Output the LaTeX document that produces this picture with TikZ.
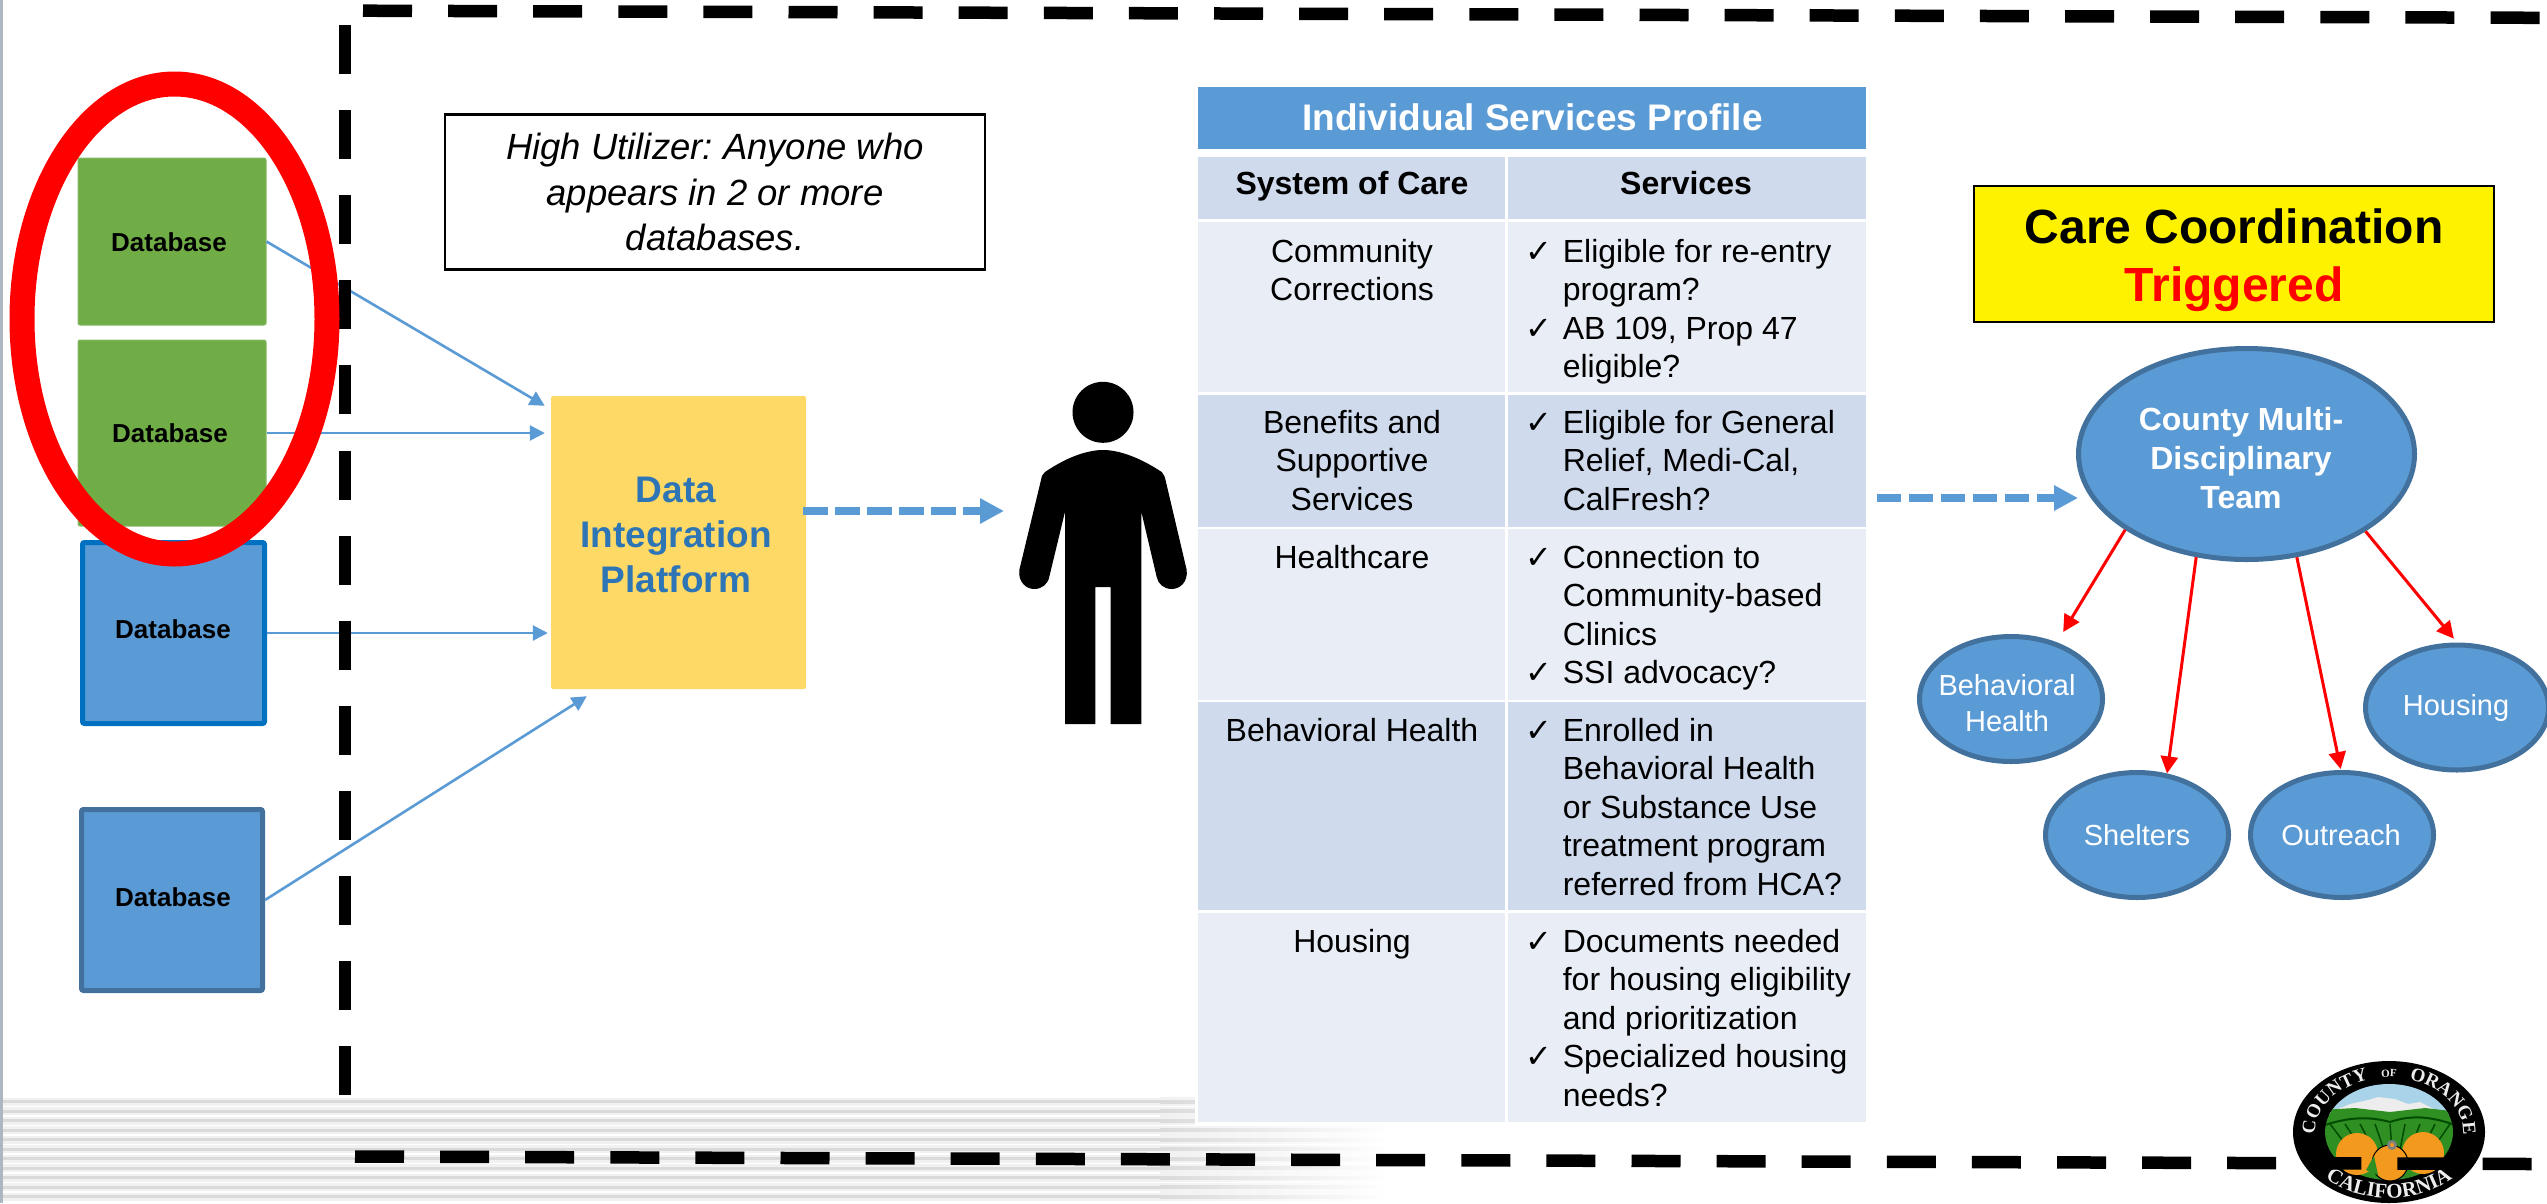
\documentclass[tikz,border=0pt]{standalone}
\usepackage{fontspec}
\setmainfont{Liberation Sans}
\newfontfamily\chkfont{DejaVu Sans}
\newfontfamily\logofont{Liberation Serif}
\usetikzlibrary{shapes.geometric,arrows.meta,decorations.text,calc}
\definecolor{hdblue}{HTML}{5B9BD5}
\definecolor{edgeblue}{HTML}{41719C}
\definecolor{vivblue}{HTML}{0070C0}
\definecolor{dbgreen}{HTML}{70AD47}
\definecolor{platyellow}{HTML}{FFD966}
\definecolor{plattext}{HTML}{2E75B6}
\definecolor{rowdark}{HTML}{CFDAED}
\definecolor{rowlight}{HTML}{E9EDF6}
\definecolor{stripeD}{HTML}{DADADA}
\definecolor{stripeL}{HTML}{F1F1F1}
\definecolor{edgegray}{HTML}{AEB6C2}
\definecolor{orng}{HTML}{F39A1E}
\definecolor{leaf}{HTML}{2F8F22}
\definecolor{sky}{HTML}{A9D3E8}
\definecolor{sealwhite}{HTML}{EDEDED}
\newcommand\fsz[2]{\fontsize{#1pt}{#2pt}\selectfont}
\newcommand\chk{\llap{{\chkfont\fsz{32}{38.5}✓}\hspace{11pt}}}
\frenchspacing
\tikzset{
  dbgreenbox/.style={rectangle,rounded corners=2pt,fill=dbgreen,draw=dbgreen!85!white,line width=1pt,inner sep=0pt},
  dbbluebox/.style={rectangle,rounded corners=2pt,fill=hdblue,line width=5pt,inner sep=0pt},
  dbtext/.style={text=black,font=\bfseries\fsz{26}{30},inner sep=0pt},
  feed/.style={draw=hdblue,line width=2.6pt,-{Triangle[length=15pt,width=15pt]}},
  dashflow/.style={draw=hdblue,line width=8pt,dash pattern=on 24.3pt off 7.7pt,-{Triangle[length=24pt,width=24pt]}},
  teamarrow/.style={draw=red,line width=3pt,-{Triangle[length=17pt,width=17pt]}},
  frameline/.style={draw=black,line width=12.5pt,dash pattern=on 49pt off 36.1pt},
  teambub/.style={ellipse,fill=hdblue,draw=edgeblue,line width=5pt,inner sep=0pt,minimum width=183pt,minimum height=125pt},
  bubtext/.style={text=white,font=\fsz{29}{36},align=center,inner sep=0pt},
  cellc/.style={anchor=north,font=\fsz{32}{38.5},align=center,inner sep=0pt,text=black},
  celll/.style={anchor=north west,font=\fsz{32}{38.5},align=left,inner sep=0pt,text=black},
  thead/.style={anchor=base,font=\bfseries\fsz{32}{38.5},inner sep=0pt,text=black},
  sealtext/.style={decorate,decoration={text along path,text align={center},text={#1}}},
}
\begin{document}
\begin{tikzpicture}[x=1pt,y=-1pt]
\useasboundingbox (0,0) rectangle (2547,1203);
\fill[white] (0,0) rectangle (2547,1203);
% footer stripes
\foreach \i [evaluate=\i as \yy using 1101.7+9.5*\i] in {0,...,10}{
  \fill[stripeL] (3,\yy-4) rectangle (1160,\yy+4);
  \fill[stripeD] (3,\yy-1.6) rectangle (1160,\yy+1.6);
  \shade[left color=stripeL,right color=white] (1160,\yy-4) rectangle (1392,\yy+4);
  \shade[left color=stripeD,right color=white] (1160,\yy-1.6) rectangle (1392,\yy+1.6);
}
\fill[edgegray] (0,0) rectangle (2.8,1203);

% databases
\node[dbgreenbox,minimum width=188pt,minimum height=167pt] (db1) at (172,241.5) {};
\node[dbgreenbox,minimum width=188pt,minimum height=186pt] (db2) at (172,433) {};
\node[dbbluebox,draw=vivblue,minimum width=182pt,minimum height=181pt] (db3) at (173.5,633) {};
\node[dbbluebox,draw=edgeblue,minimum width=181pt,minimum height=181pt] (db4) at (172,900) {};
\node[dbtext] (db1T) at (169,242) {Database};
\node[dbtext] (db2T) at (170,433) {Database};
\node[dbtext] (db3T) at (173,629) {Database};
\node[dbtext] (db4T) at (173,897) {Database};

% platform
\node[rectangle,rounded corners=2pt,fill=platyellow,minimum width=255pt,minimum height=293pt,inner sep=0pt] (plat) at (678.5,542.5) {};
\node[text=plattext,font=\bfseries\fsz{37}{45},align=center,inner sep=0pt] (platT) at (676,535) {Data\\Integration\\Platform};

% feeds
\draw[feed] (db1.east) -- ([xshift=-6pt,yshift=-10pt]plat.north west);
\draw[feed] (db2.east) -- ([xshift=-6pt]plat.west |- db2.east);
\draw[feed] (db3.east) -- ([xshift=-3pt]plat.west |- db3.east);
\draw[feed] (db4.east) -- ([xshift=36pt,yshift=-7pt]plat.south west);

% frame
\draw[frameline] (345,25) -- (345,1096);
\draw[frameline] (363,10.7) -- (2540,17.8);

% red ring
\node[ellipse,draw=red,line width=25pt,minimum width=305pt,minimum height=470pt,inner sep=0pt] (ring) at (174.5,319) {};

% definition box
\node[rectangle,draw=black,line width=2.5pt,fill=white,minimum width=540pt,minimum height=155pt,font=\itshape\fsz{36.5}{45.2},align=center,inner sep=0pt] (defbox) at (715,192) {High Utilizer: Anyone who\\appears in 2 or more\\databases.};

% person
\fill[black] (1103,412.3) circle[radius=30.5pt];
\fill[black] (1045,472) .. controls (1070,455) and (1090,450) .. (1103,450) .. controls (1116,450) and (1136,455) .. (1161.7,472) .. controls (1163,474) and (1165,476) .. (1165.5,480) -- (1186.7,570) .. controls (1188,582) and (1180,589) .. (1171.7,589) .. controls (1164,589) and (1158,584) .. (1156.7,577) -- (1141.3,511.7) -- (1141.3,724) -- (1110.7,724) -- (1110.7,587) -- (1095.3,587) -- (1095.3,724) -- (1065,724) -- (1065,511.7) -- (1049.3,576.7) .. controls (1048,584) and (1042,589) .. (1034.3,589) .. controls (1026,589) and (1018,582) .. (1019.3,570) -- (1041,480) .. controls (1041.5,476) and (1043,474) .. (1045,472) -- cycle;
\coordinate (persL) at (1004,511);
\draw[dashflow] ([xshift=-3pt,yshift=31.5pt]plat.east) -- (persL);

% table
\fill[white] (1195,80) rectangle (1870,1125);
\fill[hdblue] (1198,86.7) rectangle (1866,149);
\fill[rowdark] (1198,157) rectangle (1505,219);
\fill[rowdark] (1507.5,157) rectangle (1866,219);
\fill[rowlight] (1198,222) rectangle (1505,392);
\fill[rowlight] (1507.5,222) rectangle (1866,392);
\fill[rowdark] (1198,395) rectangle (1505,527);
\fill[rowdark] (1507.5,395) rectangle (1866,527);
\fill[rowlight] (1198,529) rectangle (1505,700);
\fill[rowlight] (1507.5,529) rectangle (1866,700);
\fill[rowdark] (1198,702) rectangle (1505,910);
\fill[rowdark] (1507.5,702) rectangle (1866,910);
\fill[rowlight] (1198,913) rectangle (1505,1122);
\fill[rowlight] (1507.5,913) rectangle (1866,1122);

\node[anchor=base,text=white,font=\bfseries\fsz{37}{40},inner sep=0pt] (title) at (1532.5,130) {Individual Services Profile};
\node[thead] (h1) at (1352,194) {System of Care};
\node[thead] (h2) at (1686,194) {Services};

\node[cellc] (c1) at (1352,235) {\strut Community\\Corrections};
\node[cellc] (c2) at (1352,406) {\strut Benefits and\\Supportive\\Services};
\node[cellc] (c3) at (1352,541) {\strut Healthcare};
\node[cellc] (c4) at (1352,714) {\strut Behavioral Health};
\node[cellc] (c5) at (1352,925) {\strut Housing};

\node[celll] (s1) at (1562.6,235) {\strut\chk Eligible for re-entry\\program?\\\chk AB 109, Prop 47\\eligible?};
\node[celll] (s2) at (1562.6,406) {\strut\chk Eligible for General\\Relief, Medi-Cal,\\CalFresh?};
\node[celll] (s3) at (1562.6,541) {\strut\chk Connection to\\Community-based\\Clinics\\\chk SSI advocacy?};
\node[celll] (s4) at (1562.6,714) {\strut\chk Enrolled in\\Behavioral Health\\or Substance Use\\treatment program\\referred from HCA?};
\node[celll] (s5) at (1562.6,925) {\strut\chk Documents needed\\for housing eligibility\\and prioritization\\\chk Specialized housing\\needs?};

% care coordination
\node[rectangle,draw=black,line width=2.5pt,fill=yellow,minimum width=520pt,minimum height=136pt,inner sep=0pt] (care) at (2234,254) {};
\node[font=\bfseries\fsz{48}{57.5},align=center,inner sep=0pt] (careT) at (2234,260) {Care Coordination\\\textcolor{red}{Triggered}};

% team
\node[ellipse,fill=hdblue,draw=edgeblue,line width=5pt,minimum width=336pt,minimum height=211pt,inner sep=0pt] (mdt) at (2246.5,454) {};
\node[text=white,font=\bfseries\fsz{32}{39},align=center,inner sep=0pt] (mdtT) at (2241,458) {County Multi-\\Disciplinary\\Team};
\node[teambub] (beh) at (2011,699) {};
\node[teambub] (shel) at (2137,835) {};
\node[teambub] (outr) at (2342,835) {};
\node[teambub] (hous) at (2457,707.5) {};
\node[bubtext] (behT) at (2007,703) {Behavioral\\Health};
\node[bubtext] (shelT) at (2137,835) {Shelters};
\node[bubtext] (outrT) at (2341,835) {Outreach};
\node[bubtext] (housT) at (2456,708) {Housing};

\coordinate (tabR) at (1877,498);
\draw[dashflow] (tabR) -- (2078,498);
\draw[teamarrow,shorten >=12pt] (mdt.212) -- (beh.51);
\draw[teamarrow] (mdt.244.4) -- (shel.64);
\draw[teamarrow,shorten >=1pt] (mdt.296.6) -- (outr.91);
\draw[teamarrow,shorten >=5pt] (mdt.327.9) -- (hous.90);

% seal
\coordinate (sealc) at (2389,1132);
\fill[black] (sealc) ellipse[x radius=96pt,y radius=71pt];
\begin{scope}
  \clip (sealc) ellipse[x radius=64pt,y radius=48pt];
  \fill[sky] (2320,1080) rectangle (2460,1115);
  \fill[sealwhite] (2330,1112) -- (2350,1104) -- (2368,1100) -- (2378,1097) -- (2395,1099) -- (2408,1104) -- (2420,1102) -- (2440,1112) -- (2440,1118) -- (2330,1118) -- cycle;
  \fill[leaf] (2320,1110) -- (2355,1108) -- (2390,1112) -- (2425,1108) -- (2460,1112) -- (2460,1185) -- (2320,1185) -- cycle;
  \foreach \xa/\xb in {2330/2350,2345/2362,2360/2374,2375/2384,2390/2392,2405/2400,2420/2410,2435/2422,2450/2432}
    \draw[black!70!green,line width=1.5pt] (\xa,1124) -- (\xb,1150);
  \draw[black!70!green,line width=2pt] (2325,1125) .. controls (2355,1115) and (2375,1118) .. (2390,1122) .. controls (2410,1115) and (2430,1116) .. (2455,1125);
\end{scope}
\fill[orng] (2357,1154) circle[radius=21pt];
\fill[orng] (2423,1153) circle[radius=21pt];
\draw[black,line width=1pt,fill=orng] (2390,1163) circle[radius=18pt];
\fill[leaf] (2366,1170) -- (2374,1156) -- (2378,1175) -- cycle;
\fill[gray] (2392,1145) circle[radius=5pt];
\fill[orng] (2392,1145) circle[radius=2pt];
\path[sealtext={|\logofont\bfseries\fsz{19}{19}\color{sealwhite}|COUNTY}]
  ($(sealc)+(188:74pt and 54pt)$) arc[start angle=188,end angle=102,x radius=74pt,y radius=54pt];
\path[sealtext={|\logofont\bfseries\fsz{11}{11}\color{sealwhite}|OF}]
  ($(sealc)+(104:74pt and 55pt)$) arc[start angle=104,end angle=76,x radius=74pt,y radius=55pt];
\path[sealtext={|\logofont\bfseries\fsz{19}{19}\color{sealwhite}|ORANGE}]
  ($(sealc)+(78:74pt and 54pt)$) arc[start angle=78,end angle=-8,x radius=74pt,y radius=54pt];
\path[sealtext={|\logofont\bfseries\fsz{21}{21}\color{sealwhite}|CALIFORNIA}]
  ($(sealc)+(205:90pt and 66pt)$) arc[start angle=205,end angle=335,x radius=90pt,y radius=66pt];

\draw[frameline] (355,1156.5) -- (2532,1164);
\end{tikzpicture}
\end{document}
